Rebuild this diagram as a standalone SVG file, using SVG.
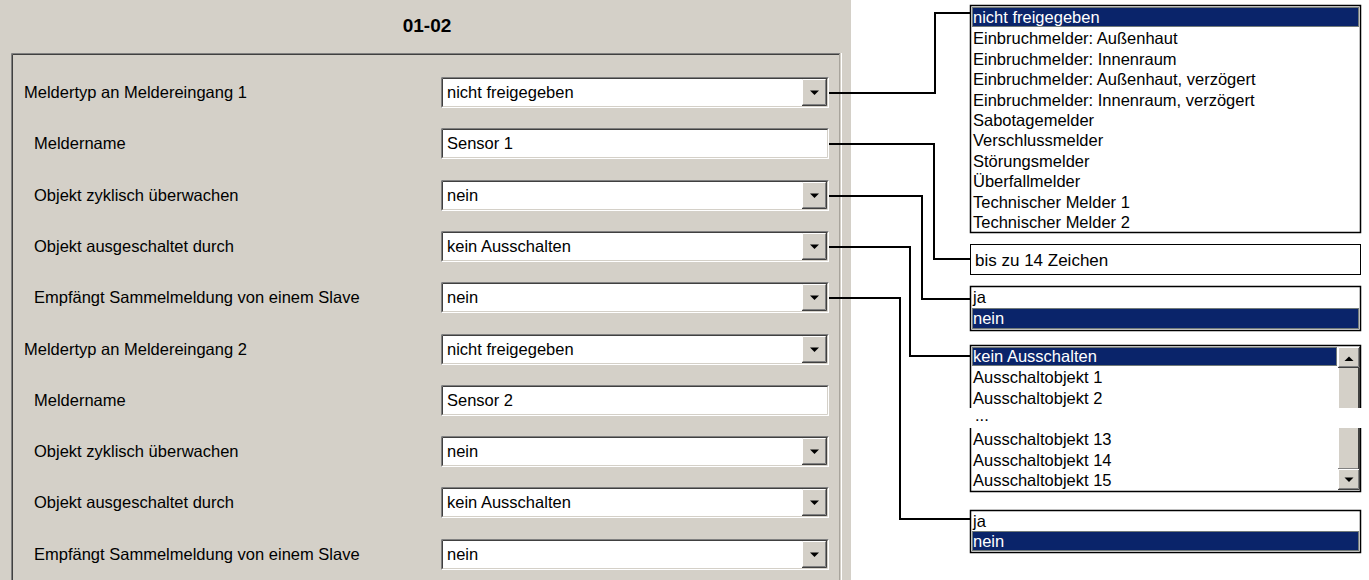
<svg xmlns="http://www.w3.org/2000/svg" xmlns:xlink="http://www.w3.org/1999/xlink" width="1369" height="580" viewBox="0 0 1369 580">
<style>
text{font-family:"Liberation Sans",Arial,sans-serif;font-size:16.5px;fill:#000}
.title{font-weight:bold;font-size:19px}
.sel{fill:#fff}
.hl{fill:#0A246A}
.focus{fill:none;stroke:#D8D088;stroke-width:1;stroke-dasharray:1 1}
.lb{fill:#fff;stroke:#000;stroke-width:1.5}
.conn{fill:none;stroke:#000;stroke-width:2}
.sbf{fill:#D4D0C8}
</style>
<defs>
<g id="tf">
<rect x="0" y="0" width="388" height="31" fill="#fff"/>
<path d="M0.5,31V0.5H388" fill="none" stroke="#808080"/>
<path d="M1.5,30V1.5H387" fill="none" stroke="#404040"/>
<path d="M0.5,30.5H387.5V0.5" fill="none" stroke="#fff"/>
<path d="M1.5,29.5H386.5V1.5" fill="none" stroke="#D4D0C8"/>
</g>
<g id="dd">
<use xlink:href="#tf"/>
<rect x="361" y="2" width="25" height="27" fill="#D4D0C8"/>
<path d="M361,28.5H385.5V2" fill="none" stroke="#404040"/>
<path d="M362,27.5H384.5V3" fill="none" stroke="#808080"/>
<path d="M361.5,27V2.5H384" fill="none" stroke="#fff"/>
<polygon points="369,13.5 378,13.5 373.5,18" fill="#000"/>
</g>
<g id="upbtn">
<rect x="0" y="0" width="22" height="21" fill="#D4D0C8"/>
<path d="M0,20.5H21.5V0" fill="none" stroke="#404040"/>
<path d="M1,19.5H20.5V1" fill="none" stroke="#808080"/>
<path d="M0.5,19.5V0.5H21" fill="none" stroke="#fff"/>
</g>
</defs>

<g id="panel">
<rect x="0" y="0" width="851" height="580" fill="#D4D0C8"/>
<path d="M11.5,580V53.5H840" fill="none" stroke="#808080"/>
<path d="M12.5,580V54.5H839" fill="none" stroke="#404040"/>
<line x1="839.5" y1="54" x2="839.5" y2="580" stroke="#A8A49C"/>
<line x1="841.5" y1="53" x2="841.5" y2="580" stroke="#fff"/>
<text class="title" x="427" y="32" text-anchor="middle">01-02</text>
</g>

<g id="row1"><text x="24" y="98">Meldertyp an Meldereingang 1</text><use xlink:href="#dd" x="441" y="77"/><text x="447" y="98">nicht freigegeben</text></g>
<g id="row2"><text x="34" y="149">Meldername</text><use xlink:href="#tf" x="441" y="128"/><text x="447" y="149">Sensor 1</text></g>
<g id="row3"><text x="34" y="201">Objekt zyklisch überwachen</text><use xlink:href="#dd" x="441" y="180"/><text x="447" y="201">nein</text></g>
<g id="row4"><text x="34" y="252">Objekt ausgeschaltet durch</text><use xlink:href="#dd" x="441" y="231"/><text x="447" y="252">kein Ausschalten</text></g>
<g id="row5"><text x="34" y="303">Empfängt Sammelmeldung von einem Slave</text><use xlink:href="#dd" x="441" y="282"/><text x="447" y="303">nein</text></g>
<g id="row6"><text x="24" y="355">Meldertyp an Meldereingang 2</text><use xlink:href="#dd" x="441" y="334"/><text x="447" y="355">nicht freigegeben</text></g>
<g id="row7"><text x="34" y="406">Meldername</text><use xlink:href="#tf" x="441" y="385"/><text x="447" y="406">Sensor 2</text></g>
<g id="row8"><text x="34" y="457">Objekt zyklisch überwachen</text><use xlink:href="#dd" x="441" y="436"/><text x="447" y="457">nein</text></g>
<g id="row9"><text x="34" y="508">Objekt ausgeschaltet durch</text><use xlink:href="#dd" x="441" y="487"/><text x="447" y="508">kein Ausschalten</text></g>
<g id="row10"><text x="34" y="560">Empfängt Sammelmeldung von einem Slave</text><use xlink:href="#dd" x="441" y="539"/><text x="447" y="560">nein</text></g>

<g id="connectors">
<path class="conn" d="M829,93H935V13H971"/>
<path class="conn" d="M829,144H934V259H971"/>
<path class="conn" d="M829,196H922V299H971"/>
<path class="conn" d="M829,247H910V356H971"/>
<path class="conn" d="M829,298H900V519H971"/>
</g>

<g id="opt-meldertyp">
<rect class="lb" x="970.5" y="5.5" width="390" height="227"/>
<rect class="hl" x="972" y="7" width="387" height="20"/>
<rect class="focus" x="972.5" y="7.5" width="386" height="19"/>
<text class="sel" x="973" y="23">nicht freigegeben</text>
<text x="973" y="44">Einbruchmelder: Außenhaut</text>
<text x="973" y="64.5">Einbruchmelder: Innenraum</text>
<text x="973" y="85">Einbruchmelder: Außenhaut, verzögert</text>
<text x="973" y="105.5">Einbruchmelder: Innenraum, verzögert</text>
<text x="973" y="126">Sabotagemelder</text>
<text x="973" y="146">Verschlussmelder</text>
<text x="973" y="166.5">Störungsmelder</text>
<text x="973" y="187">Überfallmelder</text>
<text x="973" y="207.5">Technischer Melder 1</text>
<text x="973" y="228">Technischer Melder 2</text>
</g>

<g id="opt-meldername">
<rect x="970.5" y="244.5" width="390" height="30" fill="#fff" stroke="#000" stroke-width="1"/>
<text x="975" y="266" style="font-size:17px">bis zu 14 Zeichen</text>
</g>

<g id="opt-zyklisch">
<rect class="lb" x="970.5" y="286.5" width="390" height="44"/>
<text x="973" y="303">ja</text>
<rect class="hl" x="972" y="308" width="387" height="21"/>
<rect class="focus" x="972.5" y="308.5" width="386" height="20"/>
<text class="sel" x="973" y="324">nein</text>
</g>

<g id="opt-ausgeschaltet">
<rect x="971" y="346" width="389" height="62" fill="#fff"/>
<rect x="971" y="428" width="389" height="63" fill="#fff"/>
<path d="M970.5,408V345.5H1360.5V408" fill="none" stroke="#000" stroke-width="1.5"/>
<path d="M970.5,428V491.5H1360.5V428" fill="none" stroke="#000" stroke-width="1.5"/>
<rect class="hl" x="972" y="347" width="365" height="19"/>
<rect class="focus" x="972.5" y="347.5" width="364" height="18"/>
<text class="sel" x="973" y="362">kein Ausschalten</text>
<text x="973" y="383">Ausschaltobjekt 1</text>
<text x="973" y="404">Ausschaltobjekt 2</text>
<text x="975" y="421">...</text>
<text x="973" y="445">Ausschaltobjekt 13</text>
<text x="973" y="466">Ausschaltobjekt 14</text>
<text x="973" y="486">Ausschaltobjekt 15</text>
<rect class="sbf" x="1338" y="367" width="22" height="41"/>
<path d="M1338.5,408V367.5H1359" fill="none" stroke="#fff"/>
<line x1="1359" y1="367" x2="1359" y2="408" stroke="#404040" stroke-width="2"/>
<use xlink:href="#upbtn" x="1338" y="347"/>
<polygon points="1344.5,361 1353.5,361 1349,356.5" fill="#000"/>
<rect class="sbf" x="1338" y="428" width="22" height="41"/>
<line x1="1338.5" y1="428" x2="1338.5" y2="469" stroke="#fff"/>
<path d="M1338,468.5H1359V428" fill="none" stroke="#808080"/>
<line x1="1359" y1="428" x2="1359" y2="469" stroke="#404040" stroke-width="2"/>
<use xlink:href="#upbtn" x="1338" y="469"/>
<polygon points="1344.5,477.5 1353.5,477.5 1349,482" fill="#000"/>
</g>

<g id="opt-sammelmeldung">
<rect class="lb" x="970.5" y="510.5" width="390" height="42"/>
<text x="973" y="527">ja</text>
<rect class="hl" x="972" y="531" width="387" height="20"/>
<rect class="focus" x="972.5" y="531.5" width="386" height="19"/>
<text class="sel" x="973" y="547">nein</text>
</g>
</svg>
